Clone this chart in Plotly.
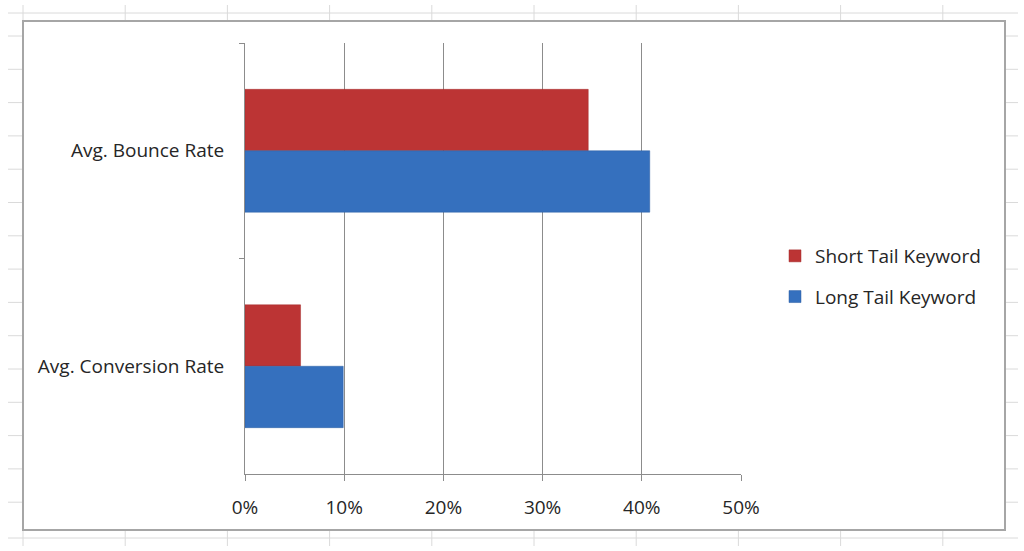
import plotly.graph_objects as go

# ---- data ----
categories = ["Avg. Bounce Rate", "Avg. Conversion Rate"]
short_tail = [0.346, 0.056]
long_tail = [0.408, 0.099]
series_names = ["Short Tail Keyword", "Long Tail Keyword"]
x_ticks = [0, 0.1, 0.2, 0.3, 0.4, 0.5]
x_tick_labels = ["0%", "10%", "20%", "30%", "40%", "50%"]

# ---- layout geometry (pixels) ----
W, H = 1024, 551
L, R, T, B = 245, 283, 43, 77
PW, PH = W - L - R, H - T - B

def px(x):
    return (x - L) / PW

def py(y):
    return (H - B - y) / PH

FONT = "Open Sans"
FS = 19
TXT = "#262626"
AX = "#8C8C8C"

fig = go.Figure()
fig.add_trace(go.Bar(
    y=categories, x=short_tail, name=series_names[0], orientation="h",
    marker=dict(color="#BC3434", line=dict(color="#A52C2C", width=0.5)),
    legendgroup="a",
))
fig.add_trace(go.Bar(
    y=categories, x=long_tail, name=series_names[1], orientation="h",
    marker=dict(color="#3570BE", line=dict(color="#2D5FA3", width=0.5)),
    legendgroup="b",
))

shapes = []
grid = "#DADADA"
# spreadsheet grid outside the chart frame
shapes.append(dict(type="line", xref="paper", yref="paper", x0=px(8), x1=px(1018), y0=py(13), y1=py(13), line=dict(color=grid, width=1), layer="below"))
shapes.append(dict(type="line", xref="paper", yref="paper", x0=px(8), x1=px(1018), y0=py(538), y1=py(538), line=dict(color=grid, width=1), layer="below"))
for k in range(10):
    xx = 23 + 102.2 * k
    shapes.append(dict(type="line", xref="paper", yref="paper", x0=px(xx), x1=px(xx), y0=py(5), y1=py(20), line=dict(color=grid, width=1), layer="below"))
    shapes.append(dict(type="line", xref="paper", yref="paper", x0=px(xx), x1=px(xx), y0=py(530), y1=py(546), line=dict(color=grid, width=1), layer="below"))
for k in range(15):
    yy = 36 + 33.3 * k
    if yy > 530:
        break
    shapes.append(dict(type="line", xref="paper", yref="paper", x0=px(8), x1=px(22), y0=py(yy), y1=py(yy), line=dict(color=grid, width=1), layer="below"))
    shapes.append(dict(type="line", xref="paper", yref="paper", x0=px(1005), x1=px(1018), y0=py(yy), y1=py(yy), line=dict(color=grid, width=1), layer="below"))
# chart frame
shapes.append(dict(type="rect", xref="paper", yref="paper", x0=px(23), x1=px(1005), y0=py(21), y1=py(530),
                   line=dict(color="#A6A6A6", width=2), fillcolor="rgba(0,0,0,0)", layer="below"))

fig.update_layout(
    width=W, height=H,
    margin=dict(l=L, r=R, t=T, b=B),
    paper_bgcolor="white", plot_bgcolor="white",
    barmode="group", bargap=0.43, bargroupgap=0,
    font=dict(family=FONT, size=FS, color=TXT),
    showlegend=True,
    legend=dict(x=px(775), y=py(237), xanchor="left", yanchor="top",
                font=dict(family=FONT, size=FS, color=TXT),
                tracegroupgap=13, bgcolor="rgba(0,0,0,0)",
                itemwidth=30),
    shapes=shapes,
)
fig.update_xaxes(
    range=[0, 0.5], tickvals=x_ticks, ticktext=x_tick_labels,
    showgrid=True, gridcolor=AX, gridwidth=1,
    showline=True, linecolor=AX, linewidth=1,
    ticks="outside", ticklen=6, tickcolor=AX,
    zeroline=False, ticklabelstandoff=10,
    tickfont=dict(family=FONT, size=FS, color=TXT),
)
fig.update_yaxes(
    type="category", autorange="reversed",
    showgrid=False, showline=True, linecolor=AX, linewidth=1,
    ticks="outside", ticklen=5, tickcolor=AX, tickson="boundaries",
    ticklabelstandoff=16,
    tickfont=dict(family=FONT, size=FS, color=TXT),
)

fig.write_html("out.html", config={"displayModeBar": False},
               post_script="document.body.style.margin='0';document.body.style.overflow='hidden';")
